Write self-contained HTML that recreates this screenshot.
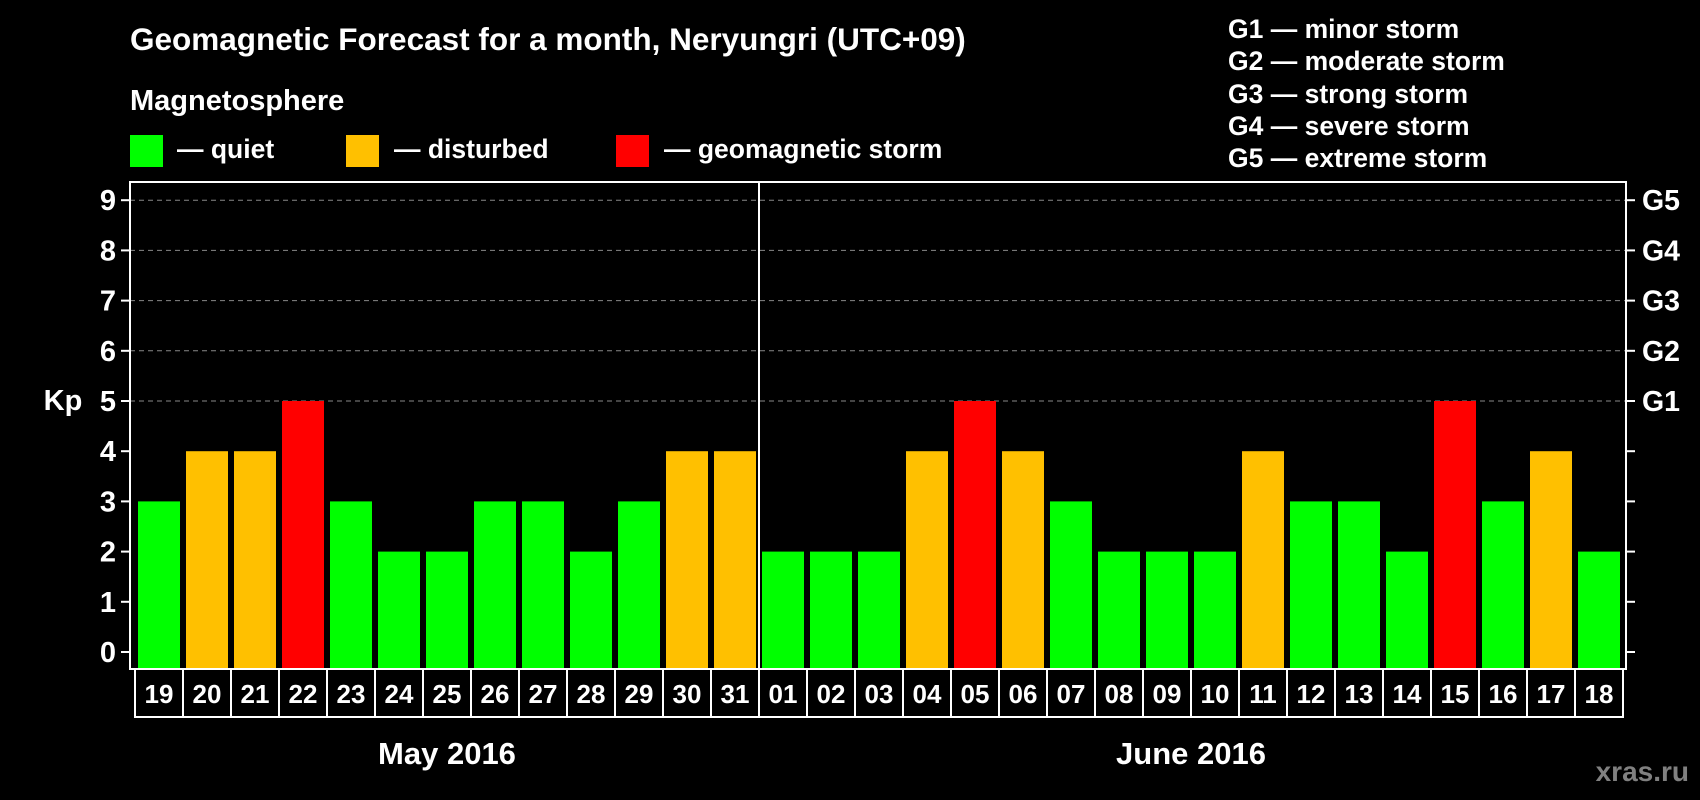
<!DOCTYPE html>
<html><head><meta charset="utf-8"><style>
html,body{margin:0;padding:0;background:#000;}
svg{display:block;font-family:"Liberation Sans",Arial,sans-serif;font-weight:bold;}
</style></head><body>
<svg id="chart" width="1700" height="800" viewBox="0 0 1700 800" xmlns="http://www.w3.org/2000/svg">
<rect width="1700" height="800" fill="#000"/>
<text x="130" y="50" font-size="31.5" fill="#fff">Geomagnetic Forecast for a month, Neryungri (UTC+09)</text>
<text x="130" y="110" font-size="29" fill="#fff">Magnetosphere</text>
<g><rect x="130" y="135" width="33" height="32" fill="#00ff00"/><text x="177" y="158" font-size="26.5" fill="#fff">— quiet</text></g>
<g><rect x="346" y="135" width="33" height="32" fill="#ffc000"/><text x="394" y="158" font-size="26.5" fill="#fff">— disturbed</text></g>
<g><rect x="616" y="135" width="33" height="32" fill="#ff0000"/><text x="664" y="158" font-size="26.5" fill="#fff">— geomagnetic storm</text></g>
<g font-size="26.5" fill="#fff">
<text x="1228" y="38">G1 — minor storm</text>
<text x="1228" y="70">G2 — moderate storm</text>
<text x="1228" y="103">G3 — strong storm</text>
<text x="1228" y="135">G4 — severe storm</text>
<text x="1228" y="167">G5 — extreme storm</text>
</g>
<text x="63" y="410" font-size="29" fill="#fff" text-anchor="middle">Kp</text>
<g id="grid"></g><g id="bars"></g><g id="axes"></g>
<text x="1689" y="781" font-size="28" fill="#808080" text-anchor="end">xras.ru</text>
</svg>
<script>
const days = ["19","20","21","22","23","24","25","26","27","28","29","30","31","01","02","03","04","05","06","07","08","09","10","11","12","13","14","15","16","17","18"];
const kp = [3,4,4,5,3,2,2,3,3,2,3,4,4,2,2,2,4,5,4,3,2,2,2,4,3,3,2,5,3,4,2];
const months = ["May 2016","June 2016"];
const monthStarts = [0,13];
const yTicks = [0,1,2,3,4,5,6,7,8,9];
const gLabels = ["","","","","","G1","G2","G3","G4","G5"];

const NS="http://www.w3.org/2000/svg";
const L=130,R=1626,T=182,B=669,X0=135,P=48,Y0=652,U=50.2;
const x=i=>X0+i*P;
const y=v=>Y0-v*U;
function mk(tag,at,parent){const e=document.createElementNS(NS,tag);for(const k in at)e.setAttribute(k,at[k]);parent.appendChild(e);return e;}
const grid=document.getElementById('grid'),bars=document.getElementById('bars'),axes=document.getElementById('axes');
yTicks.forEach(v=>{
  if(v>=5){const g=mk('line',{x1:L,x2:R,y1:y(v),y2:y(v),stroke:'#888','stroke-width':1,'stroke-dasharray':'5,4'},grid);
    
    }
  const t1=mk('line',{x1:L-9,x2:L,y1:y(v),y2:y(v),stroke:'#fff','stroke-width':2},axes);
  
  
  const t2=mk('line',{x1:R,x2:R+9,y1:y(v),y2:y(v),stroke:'#fff','stroke-width':2},axes);
  
  
  const lb=mk('text',{x:116,y:y(v)+10,'font-size':29,fill:'#fff','text-anchor':'end'},axes);lb.textContent=v;
  
  
  if(gLabels[v]){const g=mk('text',{x:1642,y:y(v)+10,'font-size':28.5,fill:'#fff'},axes);g.textContent=gLabels[v];
    
    }
});
kp.forEach((v,i)=>{
  const c=v>=5?'#ff0000':(v>=4?'#ffc000':'#00ff00');
  const r=mk('rect',{x:x(i)+3,y:y(v),width:42,height:B-1-y(v),fill:c},bars);
  
  
  const bx=mk('rect',{x:x(i),y:B,width:P,height:48,fill:'none',stroke:'#fff','stroke-width':2},axes);
  
  
  const t=mk('text',{x:x(i)+P/2,y:B+34,'font-size':26,fill:'#fff','text-anchor':'middle'},axes);t.textContent=days[i];
  
  
});
const fr=mk('rect',{x:L,y:T,width:R-L,height:B-T,fill:'none',stroke:'#fff','stroke-width':2},axes);


monthStarts.forEach((s,k)=>{
  const e=k+1<monthStarts.length?monthStarts[k+1]:days.length;
  if(s>0){const d=mk('line',{x1:x(s),x2:x(s),y1:T,y2:B+48,stroke:'#fff','stroke-width':2},axes);
    
    }
  const m=mk('text',{x:(x(s)+x(e))/2,y:764,'font-size':31,fill:'#fff','text-anchor':'middle'},axes);m.textContent=months[k];
  
  
});
</script>
</body></html>
